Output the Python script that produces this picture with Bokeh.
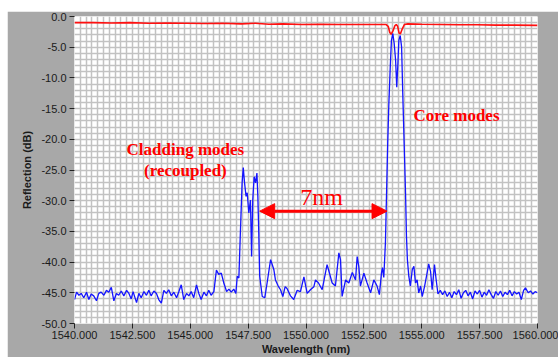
import numpy as np
from bokeh.plotting import figure
from bokeh.models import FixedTicker, PrintfTickFormatter, Arrow, NormalHead, Range1d
from bokeh.core.properties import value
from bokeh.embed import file_html
from bokeh.resources import INLINE

# Reflection spectrum (blue)
blue_wl = [1540.00, 1540.09, 1540.19, 1540.29, 1540.40, 1540.52, 1540.62, 1540.72, 1540.83, 1540.95,
           1541.05, 1541.15, 1541.27, 1541.38, 1541.48, 1541.59, 1541.70, 1541.81, 1541.91, 1542.02,
           1542.13, 1542.25, 1542.35, 1542.45, 1542.53, 1542.68, 1542.78, 1542.88, 1543.00, 1543.11,
           1543.21, 1543.31, 1543.43, 1543.54, 1543.64, 1543.75, 1543.86, 1543.97, 1544.07, 1544.18,
           1544.29, 1544.41, 1544.51, 1544.61, 1544.72, 1544.84, 1544.94, 1545.04, 1545.15, 1545.27,
           1545.37, 1545.47, 1545.59, 1545.70, 1545.80, 1545.90, 1546.02, 1546.13, 1546.23, 1546.34,
           1546.45, 1546.57, 1546.67, 1546.77, 1546.88, 1546.97, 1547.03, 1547.10, 1547.17, 1547.24,
           1547.29, 1547.34, 1547.41, 1547.46, 1547.53, 1547.60, 1547.65, 1547.70, 1547.76, 1547.82,
           1547.88, 1547.92, 1547.96, 1548.00, 1548.11, 1548.22, 1548.32, 1548.47, 1548.54, 1548.61,
           1548.68, 1548.80, 1548.90, 1549.00, 1549.10, 1549.18, 1549.33, 1549.47, 1549.62, 1549.76,
           1549.91, 1550.05, 1550.19, 1550.34, 1550.41, 1550.54, 1550.70, 1550.91, 1550.97, 1551.13,
           1551.27, 1551.42, 1551.49, 1551.56, 1551.71, 1551.85, 1552.00, 1552.14, 1552.21, 1552.28,
           1552.35, 1552.50, 1552.64, 1552.79, 1552.93, 1553.07, 1553.17, 1553.26, 1553.30, 1553.36,
           1553.43, 1553.48, 1553.53, 1553.58, 1553.64, 1553.69, 1553.75, 1553.81, 1553.87, 1553.92,
           1553.97, 1554.01, 1554.07, 1554.13, 1554.18, 1554.24, 1554.30, 1554.34, 1554.38, 1554.44,
           1554.51, 1554.59, 1554.66, 1554.73, 1554.80, 1554.87, 1554.95, 1555.02, 1555.12, 1555.22,
           1555.30, 1555.38, 1555.45, 1555.55, 1555.62, 1555.70, 1555.80, 1555.90, 1556.00, 1556.10,
           1556.20, 1556.30, 1556.40, 1556.50, 1556.60, 1556.70, 1556.80, 1556.90, 1557.00, 1557.10,
           1557.20, 1557.30, 1557.40, 1557.50, 1557.60, 1557.70, 1557.80, 1557.90, 1558.00, 1558.10,
           1558.20, 1558.30, 1558.40, 1558.50, 1558.60, 1558.70, 1558.80, 1558.90, 1559.00, 1559.10,
           1559.20, 1559.30, 1559.40, 1559.48, 1559.60, 1559.70, 1559.80, 1559.90, 1560.00]
blue_db = [-46.1, -44.9, -45.4, -45.1, -45.8, -44.9, -46.1, -45.2, -45.5, -46.3,
           -45.1, -44.9, -45.4, -44.6, -44.9, -44.1, -46.3, -45.1, -45.4, -44.7,
           -45.5, -44.6, -45.1, -46.0, -44.8, -46.6, -45.1, -45.8, -44.8, -45.4,
           -44.6, -45.5, -44.7, -45.1, -46.1, -46.7, -44.6, -45.1, -44.5, -45.5,
           -44.9, -45.8, -44.8, -43.7, -46.1, -45.1, -45.5, -44.8, -45.8, -43.7,
           -45.1, -46.1, -44.9, -45.5, -44.6, -45.4, -44.8, -41.3, -42.0, -41.8,
           -43.4, -44.8, -44.4, -44.9, -44.4, -45.1, -42.3, -42.6, -34.7, -27.1,
           -24.6, -26.9, -29.3, -28.7, -32.0, -29.9, -39.1, -29.9, -26.1, -27.1,
           -25.5, -29.3, -35.2, -42.3, -45.6, -45.8, -43.4, -39.6, -40.4, -41.2,
           -42.9, -43.9, -44.5, -45.6, -44.0, -44.3, -45.5, -46.1, -44.6, -44.8,
           -42.4, -45.1, -44.5, -44.0, -42.9, -43.4, -44.5, -40.4, -41.2, -43.4,
           -43.9, -38.5, -39.6, -45.6, -42.9, -43.4, -41.7, -42.9, -39.1, -40.7,
           -43.9, -41.8, -43.4, -45.0, -42.9, -43.9, -45.3, -41.8, -40.9, -42.5,
           -36.9, -28.7, -20.6, -14.1, -8.2, -3.9, -2.8, -4.4, -7.1, -11.5,
           -7.7, -3.9, -3.1, -5.0, -12.6, -20.7, -28.8, -35.8, -39.6, -42.3,
           -43.9, -41.2, -40.7, -43.4, -42.9, -45.0, -43.9, -45.6, -44.0, -42.0,
           -40.3, -41.5, -44.5, -40.4, -42.8, -45.2, -44.6, -45.3, -44.7, -45.6,
           -44.9, -45.8, -44.8, -45.3, -44.5, -45.9, -45.0, -44.6, -45.5, -44.9,
           -46.0, -44.7, -45.2, -44.6, -45.7, -44.9, -45.4, -44.5, -45.3, -45.9,
           -44.8, -45.4, -44.7, -45.6, -44.9, -45.3, -44.6, -45.5, -44.8, -45.2,
           -44.9, -46.1, -44.6, -44.2, -45.0, -44.7, -45.2, -44.8, -45.0]

# Transmission-like trace (red)
red_wl = [1540.0, 1540.8, 1541.6, 1542.4, 1543.2, 1544.0, 1544.8, 1545.6, 1546.4, 1547.2,
          1547.8, 1548.4, 1549.0, 1549.8, 1550.6, 1551.4, 1552.2, 1553.0, 1553.45, 1553.55,
          1553.62, 1553.68, 1553.76, 1553.84, 1553.90, 1553.96, 1554.02, 1554.08, 1554.16, 1554.25,
          1554.40, 1555.0, 1555.8, 1556.6, 1557.4, 1558.2, 1559.0, 1560.0]
red_db = [-1.0, -1.0, -1.05, -1.0, -1.1, -1.05, -1.1, -1.15, -1.1, -1.2,
          -1.1, -1.25, -1.2, -1.3, -1.25, -1.3, -1.3, -1.3, -1.3, -1.6,
          -2.6, -2.9, -2.3, -1.5, -1.3, -1.6, -2.7, -2.8, -2.0, -1.3,
          -1.2, -1.25, -1.3, -1.35, -1.35, -1.4, -1.4, -1.45]

x_ticks = [1540.0, 1542.5, 1545.0, 1547.5, 1550.0, 1552.5, 1555.0, 1557.5, 1560.0]
y_ticks = [0, -5, -10, -15, -20, -25, -30, -35, -40, -45, -50]

GRAY = "#a8a8a8"
p = figure(width=551, height=346, output_backend="svg", toolbar_location=None,
           x_range=Range1d(1540, 1560), y_range=Range1d(-50, 0),
           min_border_left=67, min_border_right=21, min_border_top=5, min_border_bottom=33)
p.margin = (11, 0, 0, 7)
p.border_fill_color = GRAY
p.background_fill_color = "white"
p.outline_line_color = None

# grids
p.xgrid.ticker = FixedTicker(ticks=list(np.arange(1540, 1560.001, 0.25)))
p.ygrid.ticker = FixedTicker(ticks=list(range(-50, 1)))
for g in (p.xgrid, p.ygrid):
    g.grid_line_color = "#c2c2c2"
    g.grid_line_width = 1.5

for ax in (p.xaxis, p.yaxis):
    ax.axis_line_color = None
    ax.major_tick_line_color = "#222222"
    ax.major_tick_in = 0
    ax.major_tick_out = 5
    ax.minor_tick_line_color = None
    ax.major_label_text_font = "Liberation Sans"
    ax.major_label_text_font_size = "11px"
    ax.major_label_text_color = "#1a1a1a"
    ax.axis_label_text_font = "Liberation Sans"
    ax.axis_label_text_font_size = "11px"
    ax.axis_label_text_font_style = "bold"
    ax.axis_label_text_color = "#1a1a1a"

p.xaxis.ticker = FixedTicker(ticks=x_ticks)
p.yaxis.ticker = FixedTicker(ticks=y_ticks)
p.xaxis.formatter = PrintfTickFormatter(format="%.3f")
p.yaxis.formatter = PrintfTickFormatter(format="%.1f")
p.xaxis.axis_label = "Wavelength (nm)"
p.yaxis.axis_label = "Reflection (dB)"
p.xaxis.major_label_standoff = 2
p.xaxis.axis_label_standoff = 1
p.yaxis.major_label_standoff = 3
p.yaxis.axis_label_standoff = 5

p.line(red_wl, red_db, line_color="#ff1010", line_width=1.6)
p.line(blue_wl, blue_db, line_color="#1414ff", line_width=1.3)

serif = value("Liberation Serif")
p.text(x=[1544.79], y=[-21.6], text=["Cladding modes"], text_font=serif,
       text_font_size="17px", text_font_style="bold", text_color="#ff0000",
       text_align="center", text_baseline="middle")
p.text(x=[1544.79], y=[-25.0], text=["(recoupled)"], text_font=serif,
       text_font_size="17px", text_font_style="bold", text_color="#ff0000",
       text_align="center", text_baseline="middle")
p.text(x=[1556.5], y=[-16.2], text=["Core modes"], text_font=serif,
       text_font_size="17px", text_font_style="bold", text_color="#ff0000",
       text_align="center", text_baseline="middle")
p.text(x=[1550.67], y=[-29.4], text=["7nm"], text_font=serif,
       text_font_size="24px", text_color="#ff0000",
       text_align="center", text_baseline="middle")

arrow = Arrow(x_start=1548.0, y_start=-31.7, x_end=1553.5, y_end=-31.7,
              line_color="#ff0000", line_width=3,
              start=NormalHead(size=15, fill_color="#ff0000", line_color="#ff0000"),
              end=NormalHead(size=15, fill_color="#ff0000", line_color="#ff0000"))
p.add_layout(arrow)

open("out.html", "w").write(file_html(p, INLINE))
